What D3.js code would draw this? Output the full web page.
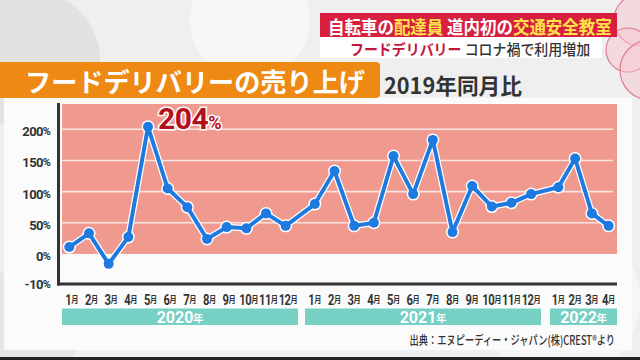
<!DOCTYPE html>
<html><head><meta charset="utf-8">
<script src="https://cdn.jsdelivr.net/npm/d3@7"></script>
<style>
html,body{margin:0;padding:0;background:#eeeeee;}
svg{display:block;font-family:"Noto Sans CJK JP","Noto Sans",sans-serif;}
</style></head>
<body>
<svg id="c" width="640" height="360"></svg>
<script>
// ---- data ----
const years = ["2020", "2021", "2022"];
const months2020 = ["1","2","3","4","5","6","7","8","9","10","11","12"];
const months2021 = ["1","2","3","4","5","6","7","8","9","10","11","12"];
const months2022 = ["1","2","3","4"];
const values2020 = [11, 33, -16, 27, 204, 105, 75, 24, 43, 41, 65, 45];
const values2021 = [80, 133, 45, 50, 157, 96, 183, 35, 109, 76, 82, 96];
const values2022 = [107, 153, 65, 45];
const yTicks = [200, 150, 100, 50, 0, -10];
const peakLabel = "204";
const title = "フードデリバリーの売り上げ";
const subtitle = "2019年同月比";
const source = "出典：エヌピーディー・ジャパン(株)CREST®より";

const svg = d3.select("#c");

// ---- background ----
svg.append("rect").attr("width",640).attr("height",360).attr("fill","#efefef");
const bg = [[30,60,70,"#e2e2e2"],[250,20,60,"#f7f7f7"],[560,300,80,"#f6f6f6"],[20,330,60,"#e6e6e6"]];
svg.selectAll("circle.bg").data(bg).join("circle").attr("class","bg")
  .attr("cx",d=>d[0]).attr("cy",d=>d[1]).attr("r",d=>d[2]).attr("fill",d=>d[3]);
svg.append("rect").attr("x",4).attr("y",98).attr("width",628).attr("height",252).attr("fill","#fbfbfb");
svg.append("rect").attr("x",0).attr("y",357).attr("width",640).attr("height",3).attr("fill","#222");

// top right decoration
const deco = svg.append("g");
[[640,20,26],[628,50,22],[650,70,30]].forEach(c=>{
  deco.append("circle").attr("cx",c[0]).attr("cy",c[1]).attr("r",c[2])
    .attr("fill","#f5c6cf").attr("fill-opacity",0.5).attr("stroke","#e07a90").attr("stroke-width",1.2);
});

// banner
svg.append("rect").attr("x",320).attr("y",13).attr("width",297).attr("height",24).attr("fill","#d81f40");
const b = svg.append("text").attr("transform","translate(328,25.5) scale(0.915,1)").attr("dominant-baseline","central")
  .attr("font-size",18).attr("font-weight","bold").attr("fill","#fff");
b.append("tspan").text("自転車の");
b.append("tspan").attr("fill","#ffe14a").text("配達員");
b.append("tspan").text(" 道内初の");
b.append("tspan").attr("fill","#ffe14a").text("交通安全教室");

svg.append("rect").attr("x",320).attr("y",37).attr("width",282).attr("height",21).attr("fill","#ffffff");
const s2 = svg.append("text").attr("transform","translate(350,48) scale(0.93,1)").attr("dominant-baseline","central")
  .attr("font-size",15);
s2.append("tspan").attr("fill","#c3143c").attr("font-weight","bold").text("フードデリバリー ");
s2.append("tspan").attr("fill","#333").attr("font-weight","500").text("コロナ禍で利用増加");

// title box
svg.append("rect").attr("x",-6).attr("y",62).attr("width",386).attr("height",36).attr("rx",4).attr("fill","#ee8913");
svg.append("text").attr("x",25).attr("y",80).attr("dominant-baseline","central")
  .attr("font-size",26).attr("font-weight","bold").attr("fill","#fff")
  .attr("textLength",340).attr("lengthAdjust","spacingAndGlyphs").text(title);
svg.append("text").attr("x",384).attr("y",84).attr("dominant-baseline","central")
  .attr("font-size",22).attr("font-weight","bold").attr("fill","#333")
  .attr("textLength",138).attr("lengthAdjust","spacingAndGlyphs").text(subtitle);

// ---- scales ----
const plotL = 62, plotR = 617, plotT = 104, axisY = 284;
const y = d3.scaleLinear().domain([0, 200]).range([253.9, 129.3]);
const groups = [
  {year: years[0], months: months2020, values: values2020, range: [62, 298]},
  {year: years[1], months: months2021, values: values2021, range: [305, 541]},
  {year: years[2], months: months2022, values: values2022, range: [550, 617]}
];
groups.forEach(g => { g.x = d3.scaleBand().domain(g.months).range(g.range); });

// plot background
svg.append("rect").attr("x",plotL).attr("y",plotT).attr("width",plotR-plotL).attr("height",y(0)-plotT).attr("fill","#f09a8f");
svg.selectAll("line.grid").data(yTicks.filter(v=>v>0)).join("line").attr("class","grid")
  .attr("x1",plotL).attr("x2",plotR-4).attr("y1",d=>y(d)).attr("y2",d=>y(d))
  .attr("stroke","#fbe3df").attr("stroke-width",1.6);

// axes lines
svg.append("line").attr("x1",58.5).attr("x2",58.5).attr("y1",103).attr("y2",285.5).attr("stroke","#333").attr("stroke-width",3);
svg.append("line").attr("x1",57).attr("x2",617).attr("y1",284).attr("y2",284).attr("stroke","#333").attr("stroke-width",3);

// y labels
const yl = svg.selectAll("text.yl").data(yTicks).join("text").attr("class","yl")
  .attr("x",51).attr("y",d=> d<0 ? axisY : y(d)+2).attr("text-anchor","end").attr("dominant-baseline","central")
  .attr("font-size",13).attr("font-weight","bold").attr("fill","#333")
  .attr("font-family","Roboto, 'Noto Sans', sans-serif");
yl.append("tspan").attr("letter-spacing",-0.6).text(d=>d);
yl.append("tspan").attr("font-size",11).text("%");

// month labels
groups.forEach(g=>{
  const t = svg.selectAll(null).data(g.months).join("text")
    .attr("transform",d=>`translate(${g.x(d)+g.x.bandwidth()/2},299) scale(0.8,1)`)
    .attr("text-anchor","middle").attr("dominant-baseline","central")
    .attr("font-weight","bold").attr("fill","#333");
  t.append("tspan").attr("font-size",14).attr("font-family","Roboto, sans-serif").attr("letter-spacing",-0.6).text(d=>d);
  t.append("tspan").attr("font-size",9).text("月");
  svg.append("rect").attr("x",g.range[0]).attr("y",308.5).attr("width",g.range[1]-g.range[0]).attr("height",16.5).attr("fill","#76d0c4");
  const yt = svg.append("text").attr("x",(g.range[0]+g.range[1])/2).attr("y",317).attr("text-anchor","middle")
    .attr("dominant-baseline","central").attr("font-weight","bold").attr("fill","#fff");
  yt.append("tspan").attr("font-size",16).attr("font-family","Roboto, sans-serif").text(g.year);
  yt.append("tspan").attr("font-size",10).text("年");
});

// line
const pts = [];
groups.forEach(g => g.months.forEach((m,i)=> pts.push([g.x(m)+g.x.bandwidth()/2 - (g.year===years[0]?2.5:0), y(g.values[i])])));
const line = d3.line();
svg.append("path").attr("d",line(pts)).attr("fill","none").attr("stroke","#fff").attr("stroke-width",6.5).attr("stroke-linejoin","round");
svg.selectAll("circle.halo").data(pts).join("circle").attr("class","halo").attr("cx",d=>d[0]).attr("cy",d=>d[1]).attr("r",6.5).attr("fill","#fff");
svg.append("path").attr("d",line(pts)).attr("fill","none").attr("stroke","#1f7ae0").attr("stroke-width",4).attr("stroke-linejoin","round");
svg.selectAll("circle.pt").data(pts).join("circle").attr("class","pt").attr("cx",d=>d[0]).attr("cy",d=>d[1]).attr("r",5).attr("fill","#1f7ae0");

// peak label
const pk = svg.append("text").attr("x",158).attr("y",128.5)
  .attr("font-weight","bold").attr("fill","#b3101e").attr("stroke","#fff").attr("stroke-width",3).attr("paint-order","stroke")
  .attr("font-family","Roboto, 'Noto Sans', sans-serif");
pk.append("tspan").attr("font-size",30).attr("letter-spacing",-0.5).text(peakLabel);
pk.append("tspan").attr("font-size",18).text("%");

// source
svg.append("text").attr("transform","translate(615,339.5) scale(0.74,1)").attr("text-anchor","end")
  .attr("dominant-baseline","central")
  .attr("font-size",12.5).attr("font-weight","500").attr("fill","#333").text(source);
</script>
</body></html>
